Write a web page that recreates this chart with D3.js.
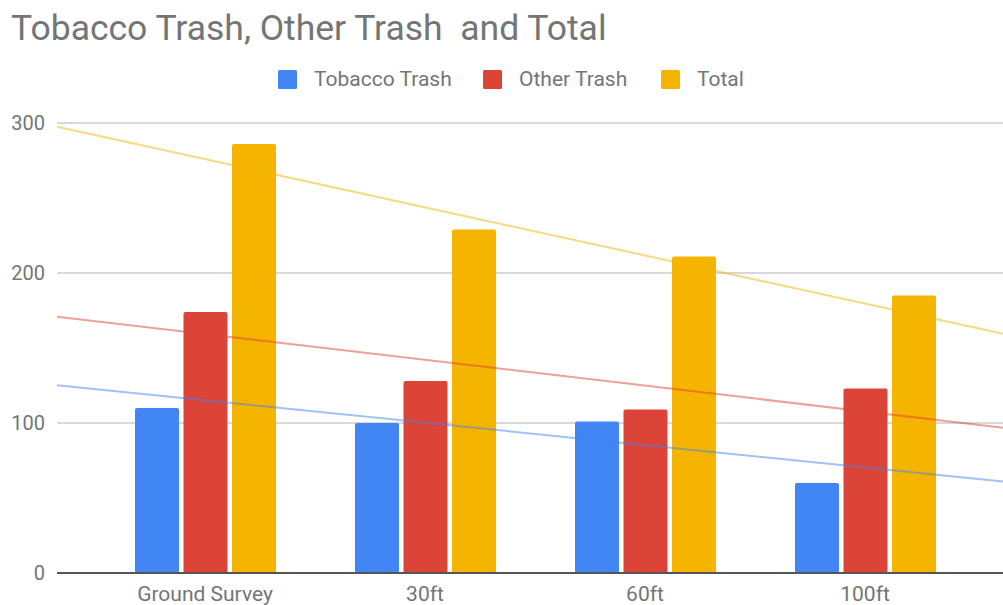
<!DOCTYPE html>
<meta charset="utf-8">
<style>
    body { margin: 0; background: #fff; }
    text { font-family: Roboto, "Noto Sans", Arial, sans-serif; }
    .grid line { stroke: #d9d9d9; stroke-width: 2px; }
    .trend { fill: none; stroke-width: 2px; stroke-opacity: 0.5; }
</style>
<svg width="1003" height="605"></svg>
<script src="https://d3js.org/d3.v7.min.js"></script>
<script>

    // chart data
    var categories = ["Ground Survey", "30ft", "60ft", "100ft"];
    var seriesNames = ["Tobacco Trash", "Other Trash", "Total"];
    var tobacco = [110, 100, 101, 60];
    var other = [174, 128, 109, 123];
    var total = [286, 229, 211, 185];
    var yTicks = [0, 100, 200, 300];
    var colors = ["#4285f4", "#db4437", "#f4b400"];

    var series = [tobacco, other, total];

    var svg = d3.select("svg"),
        width = +svg.attr("width"),
        height = +svg.attr("height");

    var plotLeft = 57, plotRight = 1003;

    var x = d3.scaleBand()
        .domain(categories)
        .range([95, 975])
        .paddingInner(0);

    var xSeries = d3.scaleBand()
        .domain(seriesNames)
        .range([40, 181])
        .paddingInner(0.093);

    var y = d3.scaleLinear()
        .domain([0, 300])
        .range([573, 123]);

    // title
    svg.append("text")
        .attr("x", 11)
        .attr("y", 40)
        .attr("font-size", 35.5)
        .attr("fill", "#757575")
        .style("white-space", "pre")
        .text("Tobacco Trash, Other Trash  and Total");

    // legend
    var legendX = [277, 482, 660];
    var legend = svg.append("g")
        .selectAll("g")
        .data(seriesNames)
        .enter()
        .append("g")
        .attr("transform", function(d, i) { return "translate(" + legendX[i] + ",79)"; });
    legend.append("rect")
        .attr("x", 1)
        .attr("y", -9)
        .attr("width", 19)
        .attr("height", 19)
        .attr("rx", 1.5)
        .attr("fill", function(d, i) { return colors[i]; });
    legend.append("text")
        .attr("x", 37)
        .attr("dy", "0.35em")
        .attr("font-size", 21)
        .attr("fill", "#757575")
        .text(function(d) { return d; });

    // gridlines
    svg.append("g")
        .attr("class", "grid")
        .selectAll("line")
        .data(yTicks.filter(function(d) { return d > 0; }))
        .enter()
        .append("line")
        .attr("x1", plotLeft)
        .attr("x2", plotRight)
        .attr("y1", function(d) { return y(d); })
        .attr("y2", function(d) { return y(d); });

    // y axis labels
    var yAxis = d3.axisLeft(y).tickValues(yTicks).tickSize(0).tickPadding(0).tickFormat(d3.format("d"));
    svg.append("g")
        .attr("transform", "translate(45,0)")
        .call(yAxis)
        .call(function(g) { g.select(".domain").remove(); })
        .selectAll("text")
        .attr("font-family", "Roboto, sans-serif")
        .attr("font-size", 20)
        .attr("fill", "#757575");

    // bars
    var groups = svg.append("g")
        .selectAll("g")
        .data(categories)
        .enter()
        .append("g")
        .attr("transform", function(d) { return "translate(" + x(d) + ",0)"; });

    groups.selectAll("rect")
        .data(function(d, ci) {
            return seriesNames.map(function(s, si) { return { name: s, value: series[si][ci], idx: si }; });
        })
        .enter()
        .append("rect")
        .attr("x", function(d) { return xSeries(d.name); })
        .attr("width", xSeries.bandwidth())
        .attr("y", function(d) { return y(d.value); })
        .attr("height", function(d) { return y(0) - y(d.value); })
        .attr("rx", 2)
        .attr("fill", function(d) { return colors[d.idx]; });

    // linear trendlines (least squares over category index)
    svg.append("clipPath").attr("id", "plotclip")
        .append("rect")
        .attr("x", plotLeft).attr("y", 0)
        .attr("width", plotRight - plotLeft).attr("height", 573);

    var step = x.step();
    var centerOf = function(i) { return x(categories[i]) + step / 2; };
    var xIndex = d3.scaleLinear()
        .domain([0, 1])
        .range([centerOf(0), centerOf(1)]);

    function fit(vals) {
        var mx = d3.mean(vals, function(d, i) { return i; });
        var my = d3.mean(vals);
        var num = 0, den = 0;
        vals.forEach(function(v, i) { num += (i - mx) * (v - my); den += (i - mx) * (i - mx); });
        var slope = num / den;
        return function(i) { return my + slope * (i - mx); };
    }

    var trendGroup = svg.append("g").attr("clip-path", "url(#plotclip)");
    series.forEach(function(vals, si) {
        var f = fit(vals);
        var i0 = xIndex.invert(plotLeft), i1 = xIndex.invert(plotRight);
        trendGroup.append("line")
            .attr("class", "trend")
            .attr("stroke", colors[si])
            .attr("x1", xIndex(i0))
            .attr("x2", xIndex(i1))
            .attr("y1", y(f(i0)))
            .attr("y2", y(f(i1)));
    });

    // baseline
    svg.append("line")
        .attr("x1", plotLeft)
        .attr("x2", plotRight)
        .attr("y1", y(0))
        .attr("y2", y(0))
        .attr("stroke", "#555")
        .attr("stroke-width", 2);

    // x labels
    var xAxis = d3.axisBottom(x).tickSize(0).tickPadding(0);
    svg.append("g")
        .attr("transform", "translate(0,583)")
        .call(xAxis)
        .call(function(g) { g.select(".domain").remove(); })
        .selectAll("text")
        .attr("font-family", "Roboto, sans-serif")
        .attr("font-size", 21)
        .attr("dy", "0.85em")
        .attr("fill", "#757575");

</script>
